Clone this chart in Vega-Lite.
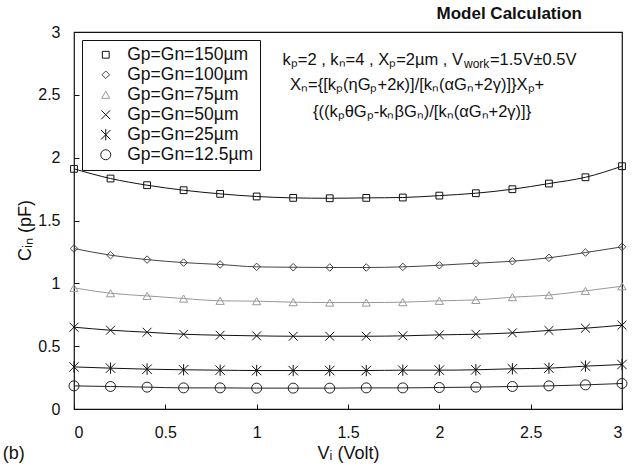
{
  "$schema": "https://vega.github.io/schema/vega-lite/v6.json",
  "width": 548,
  "height": 377,
  "autosize": {"type": "none"},
  "padding": {"left": 74, "top": 32, "right": 10, "bottom": 59},
  "background": "white",
  "title": {"text": "Model Calculation", "anchor": "end", "font": "Liberation Sans", "fontWeight": "bold", "fontSize": 17, "color": "#111", "baseline": "alphabetic", "offset": 0, "dx": -47, "dy": 11.5},
  "config": {
    "view": {"stroke": "#111", "strokeWidth": 1.2},
    "font": "Liberation Sans",
    "axis": {"domain": false, "grid": false, "tickColor": "#111", "tickSize": -5, "labelFont": "Liberation Sans", "labelFontSize": 16, "labelColor": "#111", "titleFont": "Liberation Sans", "titleFontSize": 18, "titleFontWeight": "normal", "titleColor": "#111"},
    "legend": {"symbolStrokeColor": "#111", "symbolStrokeWidth": 1, "symbolSize": 144}
  },
  "layer": [
    {
      "data": {"name": "pts"},
      "mark": {"type": "line", "interpolate": "monotone", "strokeWidth": 1},
      "encoding": {
        "x": {"field": "v", "type": "quantitative", "scale": {"domain": [0, 3], "nice": false}, "axis": {"title": "Vᵢ (Volt)", "values": [0, 0.5, 1, 1.5, 2, 2.5, 3], "format": "~g", "labelPadding": 20, "titlePadding": 4}},
        "y": {"field": "c", "type": "quantitative", "scale": {"domain": [0, 3], "nice": false}, "axis": {"title": "Cᵢₙ (pF)", "values": [0, 0.5, 1, 1.5, 2, 2.5, 3], "format": "~g", "labelPadding": 19, "titlePadding": 3, "titleY": 198}},
        "color": {"field": "g", "type": "nominal", "scale": {"domain": ["Gp=Gn=150µm", "Gp=Gn=100µm", "Gp=Gn=75µm", "Gp=Gn=50µm", "Gp=Gn=25µm", "Gp=Gn=12.5µm"], "range": ["#111", "#444", "#999", "#111", "#111", "#222"]},
          "legend": {
            "title": null, "orient": "none", "legendX": 8, "legendY": 8,
            "strokeColor": "#111", "padding": 6, "fillColor": "white",
            "labelFont": "Liberation Sans", "labelFontSize": 17.5, "labelColor": "#111", "labelLimit": 300,
            "symbolSize": 144, "symbolOffset": 9, "labelOffset": 12.7, "rowPadding": 1,
            "symbolStrokeColor": "#111", "symbolStrokeWidth": 1,
            "encoding": {"symbols": {
              "shape": {"value": {"expr": "['M-2,0H2M-0.62,-0.62H0.62V0.62H-0.62Z','M-2,0H2M-0.85,0L0,-0.85L0.85,0L0,0.85Z','M-2,0H2M0,-0.7L0.7,0.55H-0.7Z','M-2,0H2M-0.6,-0.6L0.6,0.6M-0.6,0.6L0.6,-0.6','M-2,0H2M-0.6,-0.6L0.6,0.6M-0.6,0.6L0.6,-0.6M0,-0.7V0.7','M-2,0H2M0.55,0A0.55,0.55,0,1,1,-0.55,0A0.55,0.55,0,1,1,0.55,0'][indexof(['Gp=Gn=150µm','Gp=Gn=100µm','Gp=Gn=75µm','Gp=Gn=50µm','Gp=Gn=25µm','Gp=Gn=12.5µm'], datum.value)]"}},
              "stroke": {"value": "#111"},
              "size": {"value": 144}
            }}
          }
        }
      }
    },
    {
      "data": {"name": "pts"},
      "mark": {"type": "point", "filled": false, "strokeWidth": 1, "opacity": 1},
      "encoding": {
        "x": {"field": "v", "type": "quantitative"},
        "y": {"field": "c", "type": "quantitative"},
        "color": {"field": "g", "type": "nominal",
          "legend": {
            "title": null, "orient": "none", "legendX": 8, "legendY": 8,
            "strokeColor": "#111", "padding": 6, "fillColor": "white",
            "labelFont": "Liberation Sans", "labelFontSize": 17.5, "labelColor": "#111", "labelLimit": 300,
            "symbolSize": 144, "symbolOffset": 9, "labelOffset": 12.7, "rowPadding": 1,
            "symbolStrokeColor": "#111", "symbolStrokeWidth": 1,
            "encoding": {"symbols": {
              "shape": {"value": {"expr": "['M-2,0H2M-0.62,-0.62H0.62V0.62H-0.62Z','M-2,0H2M-0.85,0L0,-0.85L0.85,0L0,0.85Z','M-2,0H2M0,-0.7L0.7,0.55H-0.7Z','M-2,0H2M-0.6,-0.6L0.6,0.6M-0.6,0.6L0.6,-0.6','M-2,0H2M-0.6,-0.6L0.6,0.6M-0.6,0.6L0.6,-0.6M0,-0.7V0.7','M-2,0H2M0.55,0A0.55,0.55,0,1,1,-0.55,0A0.55,0.55,0,1,1,0.55,0'][indexof(['Gp=Gn=150µm','Gp=Gn=100µm','Gp=Gn=75µm','Gp=Gn=50µm','Gp=Gn=25µm','Gp=Gn=12.5µm'], datum.value)]"}},
              "stroke": {"value": "#111"},
              "size": {"value": 144}
            }}
          }
        },
        "size": {"field": "g", "type": "nominal", "scale": {"domain": ["Gp=Gn=150µm", "Gp=Gn=100µm", "Gp=Gn=75µm", "Gp=Gn=50µm", "Gp=Gn=25µm", "Gp=Gn=12.5µm"], "range": [46, 100, 56, 56, 60, 44]}},
        "shape": {"field": "g", "type": "nominal",
          "scale": {"domain": ["Gp=Gn=150µm", "Gp=Gn=100µm", "Gp=Gn=75µm", "Gp=Gn=50µm", "Gp=Gn=25µm", "Gp=Gn=12.5µm"], "range": ["square", "diamond", "triangle-up", "M-1,-1L1,1M-1,1L1,-1", "M-1,-1L1,1M-1,1L1,-1M0,-1.2L0,1.2", "circle"]},
          "legend": {
            "title": null, "orient": "none", "legendX": 8, "legendY": 8,
            "strokeColor": "#111", "padding": 6, "fillColor": "white",
            "labelFont": "Liberation Sans", "labelFontSize": 17.5, "labelColor": "#111", "labelLimit": 300,
            "symbolSize": 144, "symbolOffset": 9, "labelOffset": 12.7, "rowPadding": 1,
            "symbolStrokeColor": "#111", "symbolStrokeWidth": 1,
            "encoding": {"symbols": {
              "shape": {"value": {"expr": "['M-2,0H2M-0.62,-0.62H0.62V0.62H-0.62Z','M-2,0H2M-0.85,0L0,-0.85L0.85,0L0,0.85Z','M-2,0H2M0,-0.7L0.7,0.55H-0.7Z','M-2,0H2M-0.6,-0.6L0.6,0.6M-0.6,0.6L0.6,-0.6','M-2,0H2M-0.6,-0.6L0.6,0.6M-0.6,0.6L0.6,-0.6M0,-0.7V0.7','M-2,0H2M0.55,0A0.55,0.55,0,1,1,-0.55,0A0.55,0.55,0,1,1,0.55,0'][indexof(['Gp=Gn=150µm','Gp=Gn=100µm','Gp=Gn=75µm','Gp=Gn=50µm','Gp=Gn=25µm','Gp=Gn=12.5µm'], datum.value)]"}},
              "stroke": {"value": "#111"},
              "size": {"value": 144}
            }}
          }
        }
      }
    },
    {
      "data": {"values": [{}]},
      "mark": {"type": "text", "align": "right", "baseline": "alphabetic", "font": "Liberation Sans", "fontSize": 16.5, "color": "#111"},
      "encoding": {"x": {"datum": 2.1295}, "y": {"datum": 2.741}, "text": {"value": "kₚ=2 , kₙ=4 , Xₚ=2µm , V"}}
    },
    {
      "data": {"values": [{}]},
      "mark": {"type": "text", "align": "left", "baseline": "alphabetic", "font": "Liberation Sans", "fontSize": 12, "color": "#111"},
      "encoding": {"x": {"datum": 2.135}, "y": {"datum": 2.713}, "text": {"value": "work"}}
    },
    {
      "data": {"values": [{}]},
      "mark": {"type": "text", "align": "left", "baseline": "alphabetic", "font": "Liberation Sans", "fontSize": 16.5, "color": "#111"},
      "encoding": {"x": {"datum": 2.277}, "y": {"datum": 2.741}, "text": {"value": "=1.5V±0.5V"}}
    },
    {
      "data": {"values": [{}]},
      "mark": {"type": "text", "align": "left", "baseline": "alphabetic", "font": "Liberation Sans", "fontSize": 16.5, "color": "#111"},
      "encoding": {"x": {"datum": 1.1825}, "y": {"datum": 2.542}, "text": {"value": "Xₙ={[kₚ(ηGₚ+2κ)]/[kₙ(αGₙ+2γ)]}Xₚ+"}}
    },
    {
      "data": {"values": [{}]},
      "mark": {"type": "text", "align": "left", "baseline": "alphabetic", "font": "Liberation Sans", "fontSize": 16.5, "color": "#111"},
      "encoding": {"x": {"datum": 1.308}, "y": {"datum": 2.327}, "text": {"value": "{((kₚθGₚ-kₙβGₙ)/[kₙ(αGₙ+2γ)]}"}}
    },
    {
      "data": {"values": [{}]},
      "mark": {"type": "text", "align": "left", "baseline": "middle", "font": "Liberation Sans", "fontSize": 18, "color": "#111"},
      "encoding": {"x": {"datum": -0.39}, "y": {"datum": -0.36}, "text": {"value": "(b)"}}
    }
  ],
  "datasets": {
    "pts": [
      {"g": "Gp=Gn=150µm", "v": 0, "c": 1.911}, {"g": "Gp=Gn=150µm", "v": 0.2, "c": 1.834}, {"g": "Gp=Gn=150µm", "v": 0.4, "c": 1.781}, {"g": "Gp=Gn=150µm", "v": 0.6, "c": 1.741},
      {"g": "Gp=Gn=150µm", "v": 0.8, "c": 1.712}, {"g": "Gp=Gn=150µm", "v": 1.0, "c": 1.691}, {"g": "Gp=Gn=150µm", "v": 1.2, "c": 1.680}, {"g": "Gp=Gn=150µm", "v": 1.4, "c": 1.677},
      {"g": "Gp=Gn=150µm", "v": 1.6, "c": 1.680}, {"g": "Gp=Gn=150µm", "v": 1.8, "c": 1.683}, {"g": "Gp=Gn=150µm", "v": 2.0, "c": 1.698}, {"g": "Gp=Gn=150µm", "v": 2.2, "c": 1.717},
      {"g": "Gp=Gn=150µm", "v": 2.4, "c": 1.749}, {"g": "Gp=Gn=150µm", "v": 2.6, "c": 1.794}, {"g": "Gp=Gn=150µm", "v": 2.8, "c": 1.844}, {"g": "Gp=Gn=150µm", "v": 3.0, "c": 1.932},
      {"g": "Gp=Gn=100µm", "v": 0, "c": 1.277}, {"g": "Gp=Gn=100µm", "v": 0.2, "c": 1.224}, {"g": "Gp=Gn=100µm", "v": 0.4, "c": 1.189}, {"g": "Gp=Gn=100µm", "v": 0.6, "c": 1.165},
      {"g": "Gp=Gn=100µm", "v": 0.8, "c": 1.150}, {"g": "Gp=Gn=100µm", "v": 1.0, "c": 1.131}, {"g": "Gp=Gn=100µm", "v": 1.2, "c": 1.128}, {"g": "Gp=Gn=100µm", "v": 1.4, "c": 1.126},
      {"g": "Gp=Gn=100µm", "v": 1.6, "c": 1.126}, {"g": "Gp=Gn=100µm", "v": 1.8, "c": 1.131}, {"g": "Gp=Gn=100µm", "v": 2.0, "c": 1.144}, {"g": "Gp=Gn=100µm", "v": 2.2, "c": 1.160},
      {"g": "Gp=Gn=100µm", "v": 2.4, "c": 1.176}, {"g": "Gp=Gn=100µm", "v": 2.6, "c": 1.203}, {"g": "Gp=Gn=100µm", "v": 2.8, "c": 1.245}, {"g": "Gp=Gn=100µm", "v": 3.0, "c": 1.290},
      {"g": "Gp=Gn=75µm", "v": 0, "c": 0.964}, {"g": "Gp=Gn=75µm", "v": 0.2, "c": 0.921}, {"g": "Gp=Gn=75µm", "v": 0.4, "c": 0.900}, {"g": "Gp=Gn=75µm", "v": 0.6, "c": 0.879},
      {"g": "Gp=Gn=75µm", "v": 0.8, "c": 0.861}, {"g": "Gp=Gn=75µm", "v": 1.0, "c": 0.858}, {"g": "Gp=Gn=75µm", "v": 1.2, "c": 0.850}, {"g": "Gp=Gn=75µm", "v": 1.4, "c": 0.847},
      {"g": "Gp=Gn=75µm", "v": 1.6, "c": 0.847}, {"g": "Gp=Gn=75µm", "v": 1.8, "c": 0.850}, {"g": "Gp=Gn=75µm", "v": 2.0, "c": 0.861}, {"g": "Gp=Gn=75µm", "v": 2.2, "c": 0.868},
      {"g": "Gp=Gn=75µm", "v": 2.4, "c": 0.890}, {"g": "Gp=Gn=75µm", "v": 2.6, "c": 0.906}, {"g": "Gp=Gn=75µm", "v": 2.8, "c": 0.940}, {"g": "Gp=Gn=75µm", "v": 3.0, "c": 0.977},
      {"g": "Gp=Gn=50µm", "v": 0, "c": 0.651}, {"g": "Gp=Gn=50µm", "v": 0.2, "c": 0.627}, {"g": "Gp=Gn=50µm", "v": 0.4, "c": 0.611}, {"g": "Gp=Gn=50µm", "v": 0.6, "c": 0.595},
      {"g": "Gp=Gn=50µm", "v": 0.8, "c": 0.587}, {"g": "Gp=Gn=50µm", "v": 1.0, "c": 0.582}, {"g": "Gp=Gn=50µm", "v": 1.2, "c": 0.579}, {"g": "Gp=Gn=50µm", "v": 1.4, "c": 0.579},
      {"g": "Gp=Gn=50µm", "v": 1.6, "c": 0.579}, {"g": "Gp=Gn=50µm", "v": 1.8, "c": 0.582}, {"g": "Gp=Gn=50µm", "v": 2.0, "c": 0.590}, {"g": "Gp=Gn=50µm", "v": 2.2, "c": 0.595},
      {"g": "Gp=Gn=50µm", "v": 2.4, "c": 0.606}, {"g": "Gp=Gn=50µm", "v": 2.6, "c": 0.625}, {"g": "Gp=Gn=50µm", "v": 2.8, "c": 0.643}, {"g": "Gp=Gn=50µm", "v": 3.0, "c": 0.667},
      {"g": "Gp=Gn=25µm", "v": 0, "c": 0.335}, {"g": "Gp=Gn=25µm", "v": 0.2, "c": 0.325}, {"g": "Gp=Gn=25µm", "v": 0.4, "c": 0.317}, {"g": "Gp=Gn=25µm", "v": 0.6, "c": 0.312},
      {"g": "Gp=Gn=25µm", "v": 0.8, "c": 0.309}, {"g": "Gp=Gn=25µm", "v": 1.0, "c": 0.306}, {"g": "Gp=Gn=25µm", "v": 1.2, "c": 0.306}, {"g": "Gp=Gn=25µm", "v": 1.4, "c": 0.306},
      {"g": "Gp=Gn=25µm", "v": 1.6, "c": 0.306}, {"g": "Gp=Gn=25µm", "v": 1.8, "c": 0.309}, {"g": "Gp=Gn=25µm", "v": 2.0, "c": 0.309}, {"g": "Gp=Gn=25µm", "v": 2.2, "c": 0.312},
      {"g": "Gp=Gn=25µm", "v": 2.4, "c": 0.320}, {"g": "Gp=Gn=25µm", "v": 2.6, "c": 0.325}, {"g": "Gp=Gn=25µm", "v": 2.8, "c": 0.341}, {"g": "Gp=Gn=25µm", "v": 3.0, "c": 0.354},
      {"g": "Gp=Gn=12.5µm", "v": 0, "c": 0.184}, {"g": "Gp=Gn=12.5µm", "v": 0.2, "c": 0.179}, {"g": "Gp=Gn=12.5µm", "v": 0.4, "c": 0.174}, {"g": "Gp=Gn=12.5µm", "v": 0.6, "c": 0.168},
      {"g": "Gp=Gn=12.5µm", "v": 0.8, "c": 0.168}, {"g": "Gp=Gn=12.5µm", "v": 1.0, "c": 0.166}, {"g": "Gp=Gn=12.5µm", "v": 1.2, "c": 0.166}, {"g": "Gp=Gn=12.5µm", "v": 1.4, "c": 0.166},
      {"g": "Gp=Gn=12.5µm", "v": 1.6, "c": 0.168}, {"g": "Gp=Gn=12.5µm", "v": 1.8, "c": 0.168}, {"g": "Gp=Gn=12.5µm", "v": 2.0, "c": 0.171}, {"g": "Gp=Gn=12.5µm", "v": 2.2, "c": 0.174},
      {"g": "Gp=Gn=12.5µm", "v": 2.4, "c": 0.179}, {"g": "Gp=Gn=12.5µm", "v": 2.6, "c": 0.184}, {"g": "Gp=Gn=12.5µm", "v": 2.8, "c": 0.192}, {"g": "Gp=Gn=12.5µm", "v": 3.0, "c": 0.203}
    ]
  }
}
